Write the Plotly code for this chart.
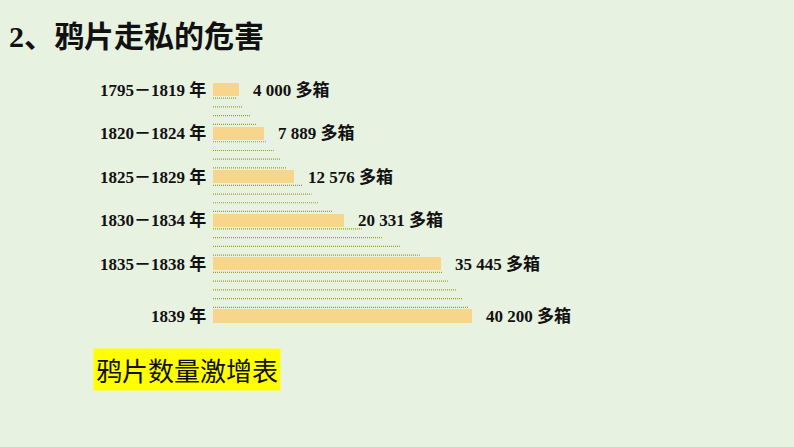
import plotly.graph_objects as go

# ---- data ----
periods = ["1795－1819 年", "1820－1824 年", "1825－1829 年",
           "1830－1834 年", "1835－1838 年", "1839 年"]
chests = [4000, 7889, 12576, 20331, 35445, 40200]
value_labels = ["4 000 多箱", "7 889 多箱", "12 576 多箱",
                "20 331 多箱", "35 445 多箱", "40 200 多箱"]
# decorative dotted guide lines between consecutive bars (lengths, in chests)
guides_1 = [3700, 4650, 5750, 6800]
guides_2 = [8300, 9600, 10400, 11450]
guides_3 = [13950, 15300, 16450, 18600]
guides_4 = [23100, 26200, 29000, 32100]
guides_5 = [35700, 36450, 37700, 38650, 39600]
guide_groups = [guides_1, guides_2, guides_3, guides_4, guides_5]

title_text = "2、鸦片走私的危害"
caption_text = "鸦片数量激增表"

# ---- layout helpers (row positions derived from the data structure) ----
W, H = 794, 447
BG = "#E8F2E1"
BAR = "#F7D68C"
GUIDE = "#9A9A30"

bar_rows = []
guide_rows = []
row = 0
for i in range(len(chests)):
    bar_rows.append(row)
    row += 1
    if i < len(guide_groups):
        g_rows = []
        for _ in guide_groups[i]:
            g_rows.append(row)
            row += 1
        guide_rows.append(g_rows)

px_per_unit = 259 / 40200.0
x0_px = 213
row_px = 8.712
r0_px = 89.5
x_range = [-x0_px / px_per_unit, (W - x0_px) / px_per_unit]
y_range = [(H - r0_px) / row_px, -r0_px / row_px]

fig = go.Figure()

# dotted guide lines
gx, gy = [], []
for grp, rows in zip(guide_groups, guide_rows):
    for length, r in zip(grp, rows):
        gx += [0, length, None]
        gy += [r, r, None]
fig.add_trace(go.Scatter(
    x=gx, y=gy, mode="lines",
    line=dict(color=GUIDE, width=1.2, dash="1px,1px"),
    hoverinfo="skip", showlegend=False))

# bars
fig.add_trace(go.Bar(
    x=chests, y=bar_rows, orientation="h", width=1.5,
    marker=dict(color=BAR, line=dict(width=0)),
    showlegend=False, hoverinfo="skip"))

label_font = dict(family="Liberation Serif, Noto Sans CJK SC", size=17,
                  color="#111111", weight="bold")

annotations = []
for name, val, lab, r in zip(periods, chests, value_labels, bar_rows):
    annotations.append(dict(
        x=0, y=r, xref="x", yref="y", text=name, showarrow=False,
        xanchor="right", yanchor="middle", xshift=-5, font=label_font))
    annotations.append(dict(
        x=val, y=r, xref="x", yref="y", text=lab, showarrow=False,
        xanchor="left", yanchor="middle", xshift=12, font=label_font))

annotations.append(dict(
    x=7 / W, y=1 - 36 / H, xref="paper", yref="paper", text=title_text,
    showarrow=False, xanchor="left", yanchor="middle",
    font=dict(family="Liberation Serif, Noto Sans CJK SC", size=30,
              color="#111111", weight="bold")))

annotations.append(dict(
    x=186.5 / W, y=1 - 369 / H, xref="paper", yref="paper", text=caption_text,
    showarrow=False, xanchor="center", yanchor="middle",
    bgcolor="#FFFF00", borderpad=2,
    font=dict(family="Noto Sans CJK SC", size=26, color="#111111")))

fig.update_layout(
    width=W, height=H,
    margin=dict(l=0, r=0, t=0, b=0),
    paper_bgcolor=BG, plot_bgcolor=BG,
    xaxis=dict(range=x_range, visible=False, fixedrange=True),
    yaxis=dict(range=y_range, visible=False, fixedrange=True),
    annotations=annotations,
    bargap=0,
)

fig.write_html("out.html")
